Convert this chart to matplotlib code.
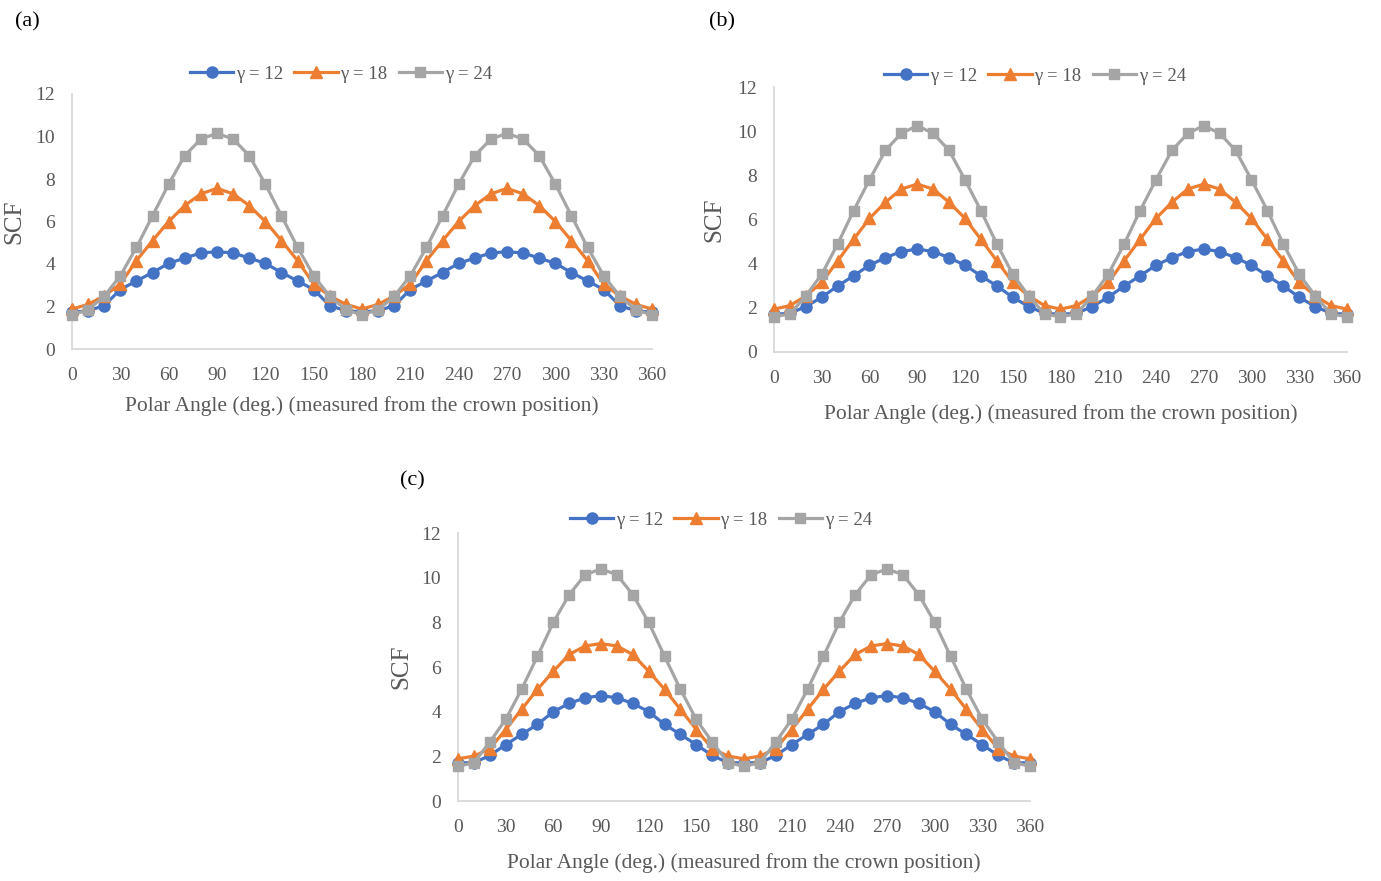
import numpy as np
import matplotlib
matplotlib.use("Agg")
import matplotlib.pyplot as plt

plt.rcParams['font.family'] = ['Liberation Serif', 'DejaVu Serif']

angles = list(range(0, 361, 10))
x_ticks = list(range(0, 361, 30))
y_ticks = [0, 2, 4, 6, 8, 10, 12]
series_labels = ['γ = 12', 'γ = 18', 'γ = 24']

# panel (a)
scf_a_12 = [1.73, 1.80, 2.04, 2.80, 3.20, 3.60, 4.03, 4.28, 4.52, 4.58,
            4.52, 4.28, 4.03, 3.60, 3.20, 2.80, 2.04, 1.80, 1.75,
            1.80, 2.04, 2.80, 3.20, 3.60, 4.03, 4.28, 4.52, 4.58,
            4.52, 4.28, 4.03, 3.60, 3.20, 2.80, 2.04, 1.80, 1.73]
scf_a_18 = [1.88, 2.10, 2.50, 3.06, 4.16, 5.10, 6.00, 6.75, 7.30, 7.56,
            7.30, 6.75, 6.00, 5.10, 4.16, 3.06, 2.50, 2.10, 1.88,
            2.10, 2.50, 3.06, 4.16, 5.10, 6.00, 6.75, 7.30, 7.56,
            7.30, 6.75, 6.00, 5.10, 4.16, 3.06, 2.50, 2.10, 1.88]
scf_a_24 = [1.60, 1.85, 2.48, 3.45, 4.78, 6.27, 7.76, 9.10, 9.88, 10.15,
            9.88, 9.10, 7.76, 6.27, 4.78, 3.45, 2.48, 1.85, 1.60,
            1.85, 2.48, 3.45, 4.78, 6.27, 7.76, 9.10, 9.88, 10.15,
            9.88, 9.10, 7.76, 6.27, 4.78, 3.45, 2.48, 1.85, 1.60]

# panel (b)
scf_b_12 = [1.71, 1.75, 2.06, 2.48, 2.99, 3.45, 3.93, 4.27, 4.55, 4.66,
            4.55, 4.27, 3.93, 3.45, 2.99, 2.48, 2.06, 1.75, 1.71,
            1.75, 2.06, 2.48, 2.99, 3.45, 3.93, 4.27, 4.55, 4.66,
            4.55, 4.27, 3.93, 3.45, 2.99, 2.48, 2.06, 1.75, 1.71]
scf_b_18 = [1.94, 2.10, 2.54, 3.15, 4.13, 5.10, 6.05, 6.78, 7.38, 7.60,
            7.38, 6.78, 6.05, 5.10, 4.13, 3.15, 2.54, 2.10, 1.94,
            2.10, 2.54, 3.15, 4.13, 5.10, 6.05, 6.78, 7.38, 7.60,
            7.38, 6.78, 6.05, 5.10, 4.13, 3.15, 2.54, 2.10, 1.94]
scf_b_24 = [1.60, 1.72, 2.54, 3.52, 4.89, 6.40, 7.80, 9.13, 9.90, 10.25,
            9.90, 9.13, 7.80, 6.40, 4.89, 3.52, 2.54, 1.72, 1.60,
            1.72, 2.54, 3.52, 4.89, 6.40, 7.80, 9.13, 9.90, 10.25,
            9.90, 9.13, 7.80, 6.40, 4.89, 3.52, 2.54, 1.72, 1.60]

# panel (c)
scf_c_12 = [1.71, 1.71, 2.04, 2.52, 2.98, 3.43, 4.00, 4.37, 4.62, 4.72,
            4.62, 4.37, 4.00, 3.43, 2.98, 2.52, 2.04, 1.71, 1.71,
            1.71, 2.04, 2.52, 2.98, 3.43, 4.00, 4.37, 4.62, 4.72,
            4.62, 4.37, 4.00, 3.43, 2.98, 2.52, 2.04, 1.71, 1.71]
scf_c_18 = [1.89, 2.01, 2.34, 3.20, 4.10, 5.00, 5.81, 6.56, 6.94, 7.05,
            6.94, 6.56, 5.81, 5.00, 4.10, 3.20, 2.34, 2.01, 1.89,
            2.01, 2.34, 3.20, 4.10, 5.00, 5.81, 6.56, 6.94, 7.05,
            6.94, 6.56, 5.81, 5.00, 4.10, 3.20, 2.34, 2.01, 1.89]
scf_c_24 = [1.56, 1.71, 2.64, 3.65, 5.00, 6.48, 8.00, 9.24, 10.13, 10.39,
            10.13, 9.24, 8.00, 6.48, 5.00, 3.65, 2.64, 1.71, 1.56,
            1.71, 2.64, 3.65, 5.00, 6.48, 8.00, 9.24, 10.13, 10.39,
            10.13, 9.24, 8.00, 6.48, 5.00, 3.65, 2.64, 1.71, 1.56]

colors = ['#4472C4', '#ED7D31', '#A5A5A5']
markers = ['o', '^', 's']
msizes = [8, 8, 7]
text_col = '#595959'


def draw_panel(fig, rect, data, tag, tag_xy, legend_xy, ylab_x, xlab_y):
    ax = fig.add_axes(rect)
    handles = []
    for vals, c, m, ms, lab in zip(data, colors, markers, msizes, series_labels):
        h, = ax.plot(angles, vals, color=c, lw=2.3, marker=m, ms=ms,
                     mec=c, mfc=c, label=lab, clip_on=False, zorder=3)
        handles.append(h)
    ax.set_xlim(0, 360)
    ax.set_ylim(0, 12)
    ax.set_xticks(x_ticks)
    ax.set_yticks(y_ticks)
    ax.tick_params(length=0, labelsize=14, colors=text_col)
    ax.tick_params(axis='x', pad=13)
    ax.tick_params(axis='y', pad=12)
    for s in ['top', 'right']:
        ax.spines[s].set_visible(False)
    for s in ['left', 'bottom']:
        ax.spines[s].set_color('#D9D9D9')
        ax.spines[s].set_linewidth(1.3)
    ax.set_xlabel('Polar Angle (deg.) (measured from the crown position)',
                  fontsize=15.5, color=text_col)
    ax.set_ylabel('SCF', fontsize=18, color=text_col)
    ax.xaxis.set_label_coords(0.5, xlab_y)
    ax.yaxis.set_label_coords(ylab_x, 0.5)
    fig.text(tag_xy[0], tag_xy[1], tag, fontsize=16, ha='center', va='center')
    fig.legend(handles=handles, loc='center', bbox_to_anchor=legend_xy,
               ncol=3, frameon=False, fontsize=13.5, handlelength=2.3,
               handletextpad=0.15, columnspacing=0.6, labelcolor=text_col,
               borderaxespad=0, borderpad=0)
    return ax


W, H = 1381, 881
fig = plt.figure(figsize=(W / 100, H / 100), dpi=100)

draw_panel(fig, [72 / W, 1 - 349 / H, 580 / W, 255 / H],
           [scf_a_12, scf_a_18, scf_a_24], '(a)', (27 / W, 1 - 22 / H),
           (341 / W, 1 - 74 / H), -0.081, -0.185)
draw_panel(fig, [774 / W, 1 - 352 / H, 573 / W, 265 / H],
           [scf_b_12, scf_b_18, scf_b_24], '(b)', (722 / W, 1 - 22 / H),
           (1035 / W, 1 - 76 / H), -0.0855, -0.195)
draw_panel(fig, [458 / W, 1 - 801 / H, 572 / W, 268 / H],
           [scf_c_12, scf_c_18, scf_c_24], '(c)', (412 / W, 1 - 481 / H),
           (721 / W, 1 - 520 / H), -0.080, -0.194)

fig.savefig('out.png', dpi=100)
